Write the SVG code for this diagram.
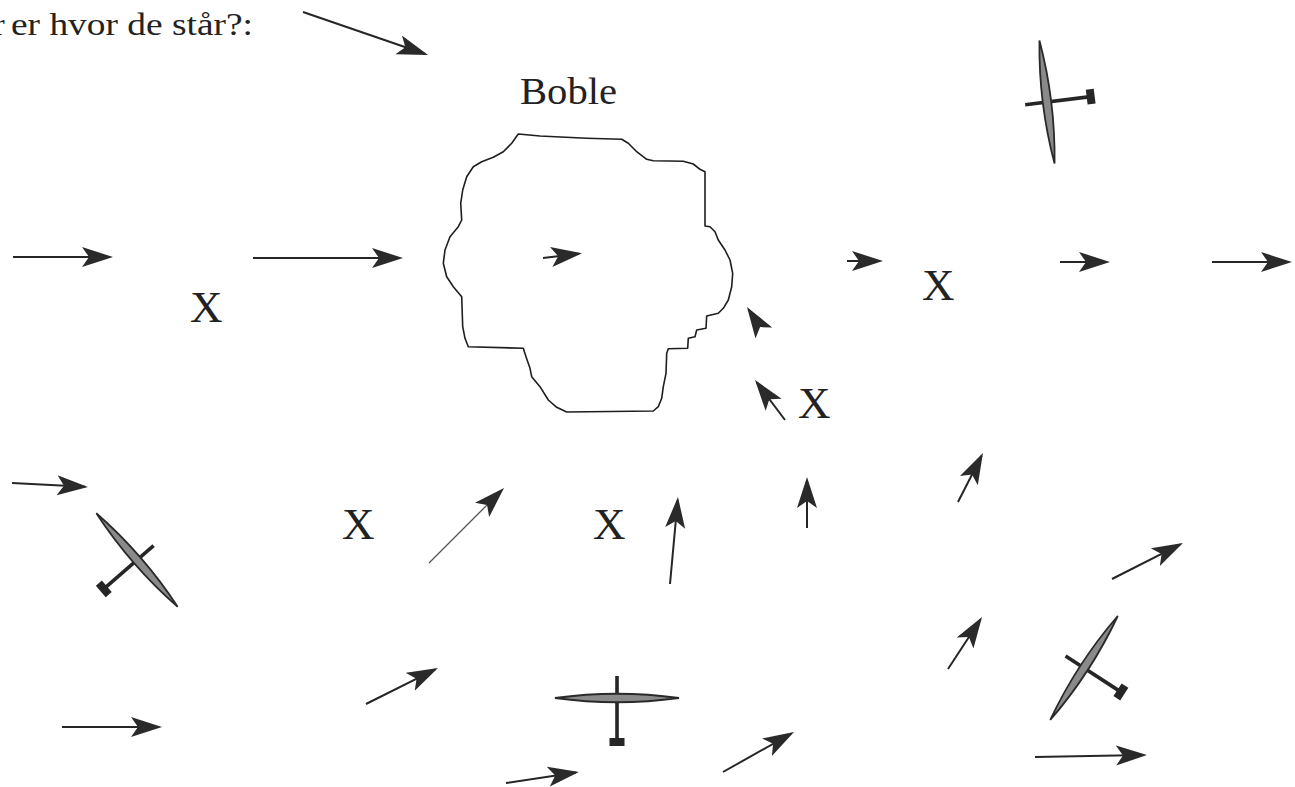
<svg xmlns="http://www.w3.org/2000/svg" xmlns:xlink="http://www.w3.org/1999/xlink" width="1295" height="787" viewBox="0 0 1295 787">
  <style>
    .lbl { font-family: "Liberation Serif", "Times New Roman", serif; fill: #222; }
    .wind { fill: none; stroke: #262626; stroke-width: 2; marker-end: url(#head); }
    .wind.thin { stroke: #555; stroke-width: 1.3; }
    .bubble { fill: none; stroke: #1e1e1e; stroke-width: 1.6; stroke-linejoin: round; }
    .wing { fill: #8a8a8a; stroke: #2a2a2a; stroke-width: 1.8; }
    .body { stroke: #262626; stroke-width: 3.6; stroke-linecap: butt; }
    .tail { fill: #262626; }
  </style>
  <defs>
    <!-- dart-shaped arrowhead, tip 3px beyond the line end -->
    <marker id="head" markerUnits="userSpaceOnUse" viewBox="0 0 32 22" markerWidth="32" markerHeight="22" refX="28" refY="11" orient="auto">
      <path d="M31,11 L0,1 L7,11 L0,21 Z" fill="#2a2a2a"/>
    </marker>
    <!-- glider seen from above, nose up, centred on the wing root -->
    <g id="glider-shape">
      <line class="body" x1="0" y1="-22" x2="0" y2="42"/>
      <path class="wing" d="M-62,0 Q0,-8.5 62,0 Q0,8.5 -62,0 Z"/>
      <rect class="tail" x="-7.5" y="40" width="15" height="8"/>
    </g>
  </defs>

  <rect width="1295" height="787" fill="#ffffff"/>

  <!-- caption line, its first word running off the left edge -->
  <text class="lbl" x="-6" y="35" font-size="32">r</text>
  <text class="lbl" x="11" y="35" font-size="32" textLength="242" lengthAdjust="spacingAndGlyphs">er hvor de står?:</text>

  <!-- thermal bubble -->
  <g id="bubble">
    <path class="bubble" d="M518.3,134 L540,136 L586.7,138.3 L621.7,139.3 L628.3,143.3 L636.7,151.7 L646.7,159.3 L653.3,160.7 L683.3,161.3 L693.3,164 L700,169.3 L705,171.7 L705,226 L710,226.7 L715,231.7 L718.3,240 L725,250 L730,260 L732.7,273.3 L731.7,286.7 L728.3,300 L723.3,308.3 L718.3,313.3 L706.7,316 L706,328.3 L696.7,330 L695,336.7 L688.3,338.3 L687.7,348.3 L668.3,348.7 L666.7,353.3 L666,373.3 L663.3,386.7 L661.7,398.3 L658.3,406.7 L653.3,411 L566.7,412 L556.7,407.3 L548.3,400 L540,386.7 L531.7,376.7 L530,368.3 L526,356.7 L523.3,348.3 L468.3,346.7 L465,338.3 L462.7,326.7 L461.7,296.7 L453.3,286.7 L446.7,276.7 L443.3,263.3 L445,250 L450,236.7 L458.3,226.7 L461.7,220 L460.7,203.3 L462.7,190 L466.7,176.7 L473.3,166.7 L481.7,161.7 L493.3,157.3 L503.3,151.7 L511.7,143.3 Z"/>
    <text class="lbl" x="520" y="104" font-size="38" textLength="97" lengthAdjust="spacingAndGlyphs">Boble</text>
  </g>

  <!-- measuring points -->
  <g id="point-1"><text class="lbl" x="190" y="322" font-size="45">X</text></g>
  <g id="point-2"><text class="lbl" x="922" y="300" font-size="45">X</text></g>
  <g id="point-3"><text class="lbl" x="798" y="418" font-size="45">X</text></g>
  <g id="point-4"><text class="lbl" x="342" y="539" font-size="45">X</text></g>
  <g id="point-5"><text class="lbl" x="593" y="539" font-size="45">X</text></g>

  <!-- gliders -->
  <g id="glider-1"><use xlink:href="#glider-shape" href="#glider-shape" transform="translate(1047,102) rotate(-97)"/></g>
  <g id="glider-2"><use xlink:href="#glider-shape" href="#glider-shape" transform="translate(137,560) rotate(49)"/></g>
  <g id="glider-3"><use xlink:href="#glider-shape" href="#glider-shape" transform="translate(617,698)"/></g>
  <g id="glider-4"><use xlink:href="#glider-shape" href="#glider-shape" transform="translate(1084,668) rotate(-57)"/></g>

  <!-- wind vectors -->
  <g id="connectors">
    <line class="wind" x1="303" y1="12" x2="425.2" y2="54"/>
    <line class="wind" x1="13" y1="257" x2="110" y2="257"/>
    <line class="wind" x1="253" y1="258" x2="400" y2="258"/>
    <line class="wind" x1="543" y1="258" x2="579" y2="253.7"/>
    <line class="wind" x1="847" y1="261" x2="880" y2="261"/>
    <line class="wind" x1="1060" y1="262" x2="1107" y2="262"/>
    <line class="wind" x1="1212" y1="262" x2="1289" y2="262"/>
    <line class="wind" x1="760" y1="327" x2="748.6" y2="309.5"/>
    <line class="wind" x1="785" y1="420" x2="756.8" y2="382.4"/>
    <line class="wind" x1="12" y1="483" x2="85" y2="486.8"/>
    <line class="wind thin" x1="429" y1="563" x2="501.9" y2="490.1"/>
    <line class="wind" x1="670" y1="584" x2="677.7" y2="500"/>
    <line class="wind" x1="807" y1="528" x2="807" y2="480"/>
    <line class="wind" x1="958" y1="502" x2="981.6" y2="455.7"/>
    <line class="wind" x1="1112" y1="579" x2="1180.3" y2="544.4"/>
    <line class="wind" x1="948" y1="669" x2="980.4" y2="619.5"/>
    <line class="wind" x1="366" y1="704" x2="435.3" y2="669.3"/>
    <line class="wind" x1="62" y1="727" x2="159" y2="727"/>
    <line class="wind" x1="506" y1="783" x2="576" y2="772.4"/>
    <line class="wind" x1="723" y1="772" x2="791.4" y2="733.5"/>
    <line class="wind" x1="1035" y1="757" x2="1144" y2="755"/>
  </g>
</svg>
